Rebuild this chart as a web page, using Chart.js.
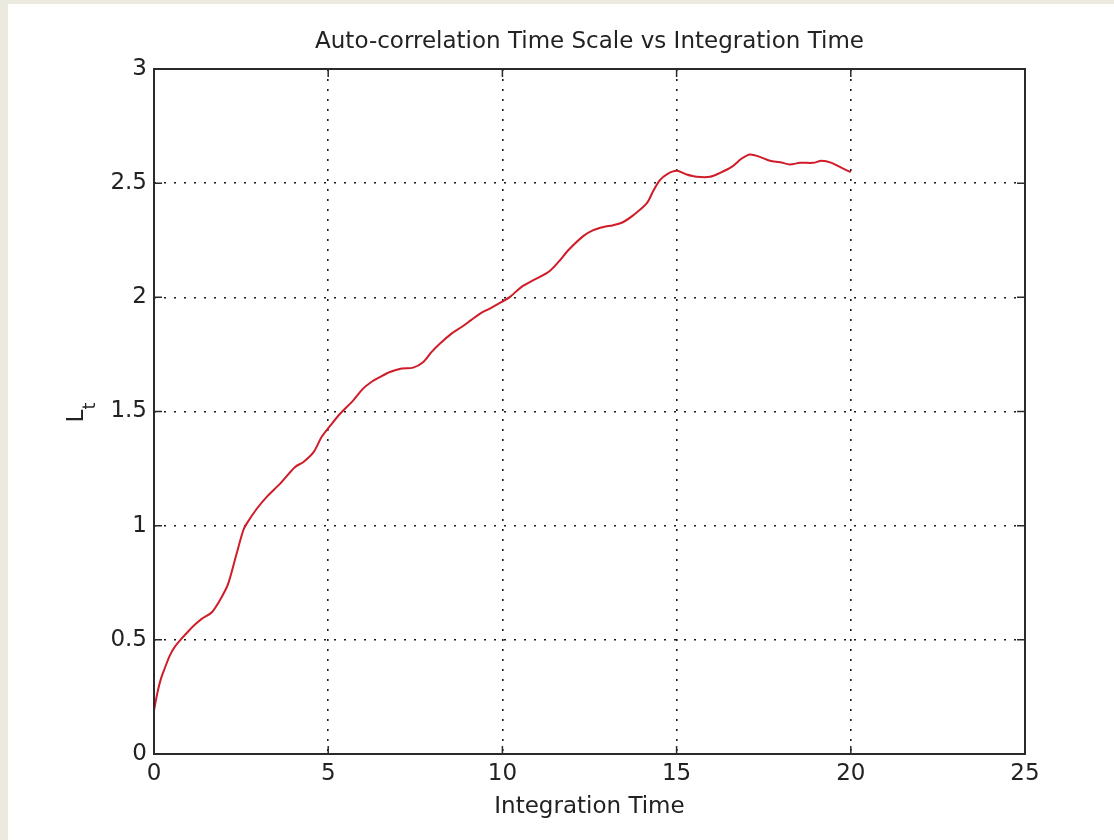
<!DOCTYPE html>
<html>
<head>
<meta charset="utf-8">
<title>Auto-correlation Time Scale</title>
<script src="https://cdn.jsdelivr.net/npm/chart.js@4"></script>
<style>
    body { margin: 0; background: #ece9df; }
    #wrap { position: absolute; left: 8px; top: 4px; width: 1106px; height: 836px; background: #fff; }
</style>
</head>
<body>
<div id="wrap"><canvas id="ltchart" width="1106" height="836"></canvas></div>
<script>
// Integration time samples and the measured auto-correlation time scale L_t
var timeValues = [
    0.0, 0.1, 0.2, 0.32, 0.45, 0.6, 0.79, 1.0, 1.2, 1.37, 1.66, 1.94, 2.13, 2.37, 2.56, 2.66,
    2.95, 3.23, 3.62, 4.05, 4.29, 4.58, 4.81, 5.07, 5.34, 5.72, 6.0, 6.2, 6.49, 6.77, 7.11, 7.44,
    7.73, 7.97, 8.21, 8.54, 8.83, 9.1, 9.36, 9.64, 9.98, 10.22, 10.55, 10.89, 11.32, 11.61, 11.89,
    12.32, 12.61, 12.9, 13.18, 13.47, 13.76, 14.14, 14.34, 14.52, 14.72, 15.0, 15.29, 15.58, 15.96,
    16.25, 16.58, 16.87, 17.11, 17.39, 17.68, 17.97, 18.25, 18.54, 18.92, 19.16, 19.45, 19.74, 20.0
];
var ltValues = [
    0.19, 0.27, 0.33, 0.38, 0.43, 0.47, 0.505, 0.54, 0.57, 0.592, 0.621, 0.687, 0.746, 0.877, 0.979, 1.009,
    1.074, 1.125, 1.184, 1.257, 1.279, 1.322, 1.388, 1.44, 1.49, 1.549, 1.6, 1.625, 1.651, 1.673, 1.688, 1.692,
    1.717, 1.761, 1.798, 1.841, 1.87, 1.9, 1.929, 1.951, 1.98, 2.002, 2.046, 2.075, 2.111, 2.155, 2.206,
    2.268, 2.294, 2.308, 2.316, 2.33, 2.36, 2.411, 2.469, 2.513, 2.539, 2.554, 2.538, 2.528, 2.528,
    2.545, 2.571, 2.608, 2.626, 2.615, 2.598, 2.592, 2.582, 2.589, 2.589, 2.598, 2.589, 2.567, 2.548
];
var xTicks = [0, 5, 10, 15, 20, 25];
var yTicks = [0, 0.5, 1, 1.5, 2, 2.5, 3];
var titleText = 'Auto-correlation Time Scale vs Integration Time';

var fontFamily = '"DejaVu Sans", sans-serif';
var fontSize = 23;
var inkColor = '#222';
var gridStyle = {
    color: '#1a1a1a',
    lineWidth: 1.6,
    drawTicks: false,
};
// dotted grid lines (v4 takes the grid dash from border.dash)
var borderStyle = { display: false, dash: [2, 8] };

// MATLAB style frame: box round the plot area with ticks pointing inwards,
// title centred over the plot and the rotated L_t label
const boxPlugin = {
    id: 'boxPlugin',
    afterDraw(chart) {
        const ctx = chart.ctx;
        const area = chart.chartArea;
        const xs = chart.scales.x;
        const ys = chart.scales.y;
        const tickLen = 8;
        ctx.save();
        ctx.strokeStyle = '#2a2a2a';
        ctx.lineWidth = 1.5;
        xTicks.forEach(function (v) {
            var px = xs.getPixelForValue(v);
            ctx.beginPath();
            ctx.moveTo(px, area.bottom);
            ctx.lineTo(px, area.bottom - tickLen);
            ctx.moveTo(px, area.top);
            ctx.lineTo(px, area.top + tickLen);
            ctx.stroke();
        });
        yTicks.forEach(function (v) {
            var py = ys.getPixelForValue(v);
            ctx.beginPath();
            ctx.moveTo(area.left, py);
            ctx.lineTo(area.left + tickLen, py);
            ctx.moveTo(area.right, py);
            ctx.lineTo(area.right - tickLen, py);
            ctx.stroke();
        });
        ctx.lineWidth = 2;
        ctx.strokeRect(area.left, area.top, area.right - area.left, area.bottom - area.top);

        ctx.fillStyle = inkColor;
        ctx.font = fontSize + 'px ' + fontFamily;
        ctx.textAlign = 'center';
        ctx.textBaseline = 'middle';
        ctx.fillText(titleText, (area.left + area.right) / 2, 38);

        // y axis label: L with subscript t
        ctx.translate(75, (area.top + area.bottom) / 2 + 11);
        ctx.rotate(-Math.PI / 2);
        ctx.textAlign = 'left';
        ctx.textBaseline = 'alphabetic';
        ctx.fillText('L', 0, 0);
        ctx.font = '18px ' + fontFamily;
        ctx.fillText('t', 13, 12);
        ctx.restore();
    }
};

const ctx = document.getElementById('ltchart').getContext('2d');
const ltchart = new Chart(ctx, {
    type: 'line',
    data: {
        datasets: [
            {
                label: 'L_t',
                data: timeValues.map(function (t, i) { return { x: t, y: ltValues[i] }; }),
                borderColor: 'rgb(208,28,40)',
                borderWidth: 2,
                pointRadius: 0,
                fill: false,
                tension: 0.3,
            },
        ],
    },
    options: {
        responsive: false,
        animation: false,
        layout: {
            padding: { left: 0, top: 65, right: 89, bottom: 0 }
        },
        plugins: {
            legend: { display: false },
            tooltip: { enabled: false },
            title: { display: false },
        },
        scales: {
            x: {
                type: 'linear',
                min: 0,
                max: 25,
                afterBuildTicks: function (scale) {
                    scale.ticks = xTicks.map(function (v) { return { value: v }; });
                },
                afterFit: function (scale) { scale.height = 86; },
                ticks: {
                    color: inkColor,
                    padding: 6,
                    maxRotation: 0,
                    font: { family: fontFamily, size: fontSize },
                },
                grid: gridStyle,
                border: borderStyle,
                title: {
                    display: true,
                    text: 'Integration Time',
                    color: inkColor,
                    font: { family: fontFamily, size: fontSize },
                    padding: { top: 0, bottom: 19 },
                },
            },
            y: {
                type: 'linear',
                min: 0,
                max: 3,
                afterBuildTicks: function (scale) {
                    scale.ticks = yTicks.map(function (v) { return { value: v }; });
                },
                afterFit: function (scale) { scale.width = 146; },
                ticks: {
                    color: inkColor,
                    padding: 7,
                    font: { family: fontFamily, size: fontSize },
                    callback: function (value) { return String(value); },
                },
                grid: gridStyle,
                border: borderStyle,
            },
        },
    },
    plugins: [boxPlugin],
});
</script>
</body>
</html>
